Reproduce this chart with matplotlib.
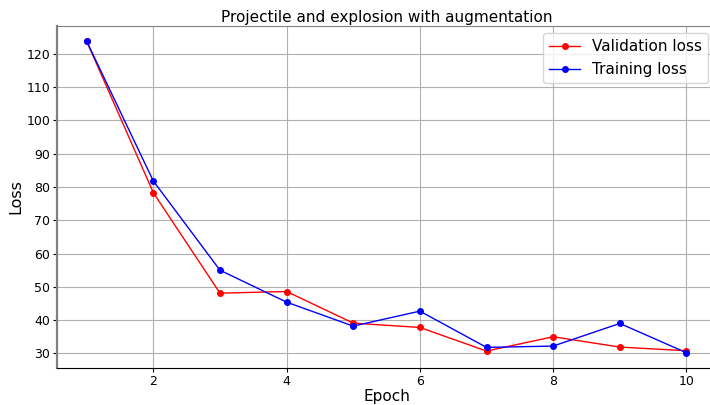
import matplotlib
matplotlib.use("Agg")
import matplotlib.pyplot as plt
from matplotlib.ticker import MultipleLocator

epochs = [1, 2, 3, 4, 5, 6, 7, 8, 9, 10]
val_loss = [123.8, 78.3, 48.1, 48.6, 39.1, 37.8, 30.7, 35.0, 31.9, 30.8]
train_loss = [123.8, 81.8, 55.0, 45.4, 38.2, 42.7, 31.8, 32.2, 39.0, 30.2]

fig = plt.figure(figsize=(7.1, 4.05), dpi=100)
# axes runs past the right edge, as in the reference crop
ax = fig.add_axes([56.7 / 710, 1 - 368.3 / 405, (716.4 - 56.7) / 710, (368.3 - 25.7) / 405])

ax.plot(epochs, val_loss, color="red", marker="o", markersize=4, linewidth=1, label="Validation loss")
ax.plot(epochs, train_loss, color="blue", marker="o", markersize=4, linewidth=1, label="Training loss")

ax.set_title("Projectile and explosion with augmentation", fontsize=11, pad=3)
ax.set_xlabel("Epoch", fontsize=11, labelpad=1)
ax.set_ylabel("Loss", fontsize=11.5, labelpad=2)
ax.yaxis.set_major_locator(MultipleLocator(10))
ax.tick_params(labelsize=9, length=3, pad=1.5)
ax.grid(True, color="#b0b0b0", linewidth=0.8)

ax.spines["left"].set_color("gray")
ax.spines["left"].set_linewidth(1.6)
ax.spines["top"].set_color("gray")
ax.spines["right"].set_visible(False)

ax.legend(loc="upper right", fontsize=11, borderaxespad=0,
          bbox_to_anchor=((708.3 - 56.7) / 659.7, (368.3 - 33.3) / 342.6))

fig.savefig("out.png", dpi=100)
